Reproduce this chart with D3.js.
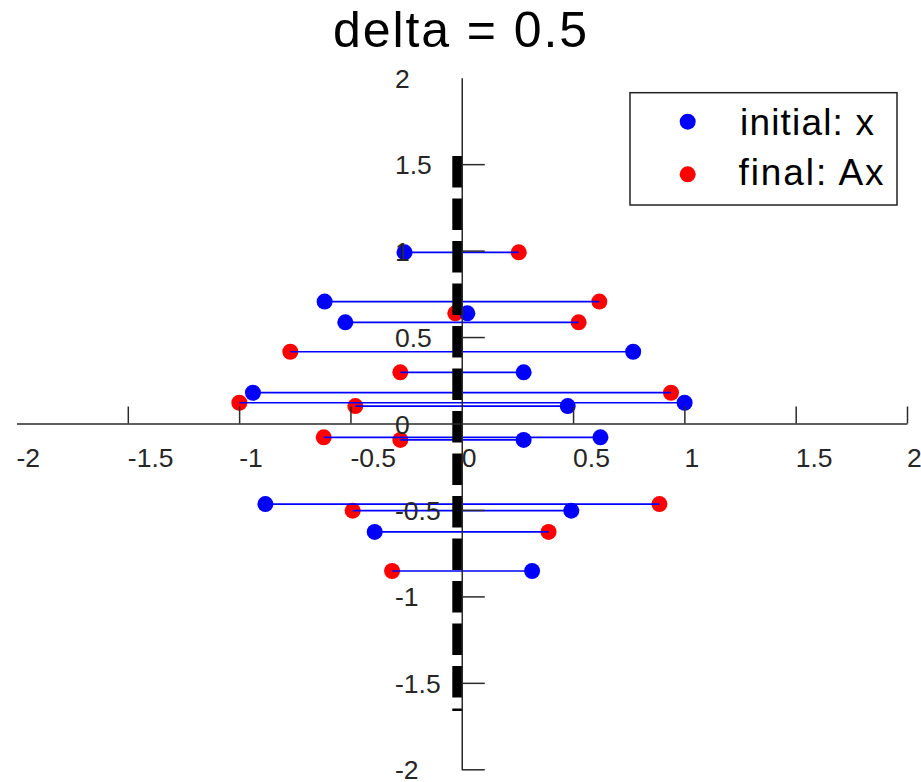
<!DOCTYPE html>
<html>
<head>
<meta charset="utf-8">
<script src="https://cdn.jsdelivr.net/npm/d3@7"></script>
<style>
  html, body { margin: 0; padding: 0; background: #fff; }
  svg { display: block; font-family: "Liberation Sans", Arial, sans-serif; }
</style>
</head>
<body>
<svg id="chart" width="921" height="782"></svg>
<script>
// Each row: a point x (blue) mapped to Ax (red), sharing the same y.
const rowY   = [0.990, 0.705, 0.637, 0.585, 0.415, 0.296, 0.178, 0.120, 0.101, -0.080, -0.095, -0.466, -0.504, -0.627, -0.853];
const initX  = [-0.257, -0.616, 0.025, -0.523, 0.770, 0.278, -0.938, 1.001, 0.476, 0.623, 0.278, -0.882, 0.492, -0.391, 0.316];
const finalX = [0.256, 0.618, -0.029, 0.525, -0.770, -0.276, 0.940, -0.999, -0.478, -0.620, -0.276, 0.888, -0.490, 0.390, -0.313];

// Dashed reference segment
const refX = -0.02;
const refY = [1.547, -1.663];

// Axis ticks and labels
const xTickMarks  = [-1.5, -1, -0.5, 0.5, 1, 1.5, 2];
const yTickMarks  = [-2, -1.5, -1, -0.5, 0.5, 1, 1.5];
const xTickLabels = [-2, -1.5, -1, -0.5, 0, 0.5, 1, 1.5, 2];
const yTickLabels = [2, 1.5, 1, 0.5, 0, -0.5, -1, -1.5, -2];

const legendLabels = ["initial: x", "final: Ax"];
const legendColors = ["#0000ff", "#ff0000"];
const titleText = "delta = 0.5";

const svg = d3.select("#chart");
const x = d3.scaleLinear().domain([-2, 2]).range([16.5, 907]);
const y = d3.scaleLinear().domain([-2, 2]).range([769.3, 77.7]);

const rows = rowY.map((v, i) => ({ y: v, x0: initX[i], x1: finalX[i] }));
const R = 8;

// final points (red)
svg.append("g").selectAll("circle").data(rows).join("circle")
  .attr("cx", d => x(d.x1)).attr("cy", d => y(d.y)).attr("r", R)
  .attr("fill", "#ff0000");

// initial points (blue)
svg.append("g").selectAll("circle").data(rows).join("circle")
  .attr("cx", d => x(d.x0)).attr("cy", d => y(d.y)).attr("r", R)
  .attr("fill", "#0000ff");

// connecting segments
svg.append("g").selectAll("line").data(rows).join("line")
  .attr("x1", d => x(d.x0)).attr("x2", d => x(d.x1))
  .attr("y1", d => y(d.y)).attr("y2", d => y(d.y))
  .attr("stroke", "#0000ff").attr("stroke-width", 1.7);

// thick dashed segment
svg.append("line")
  .attr("x1", x(refX)).attr("x2", x(refX))
  .attr("y1", y(refY[0])).attr("y2", y(refY[1]))
  .attr("stroke", "#000").attr("stroke-width", 10)
  .attr("stroke-dasharray", "31.5,11");

// axes crossing at the origin
const axisColor = "#2a2a2a";
const gx = svg.append("g").attr("transform", `translate(0,${y(0)})`)
  .call(d3.axisTop(x).tickValues(xTickMarks).tickSize(17).tickSizeOuter(0).tickFormat(""));
const gy = svg.append("g").attr("transform", `translate(${x(0)},0)`)
  .call(d3.axisRight(y).tickValues(yTickMarks).tickSize(23).tickSizeOuter(0).tickFormat(""));
[gx, gy].forEach(g => {
  g.selectAll("path, line").attr("stroke", axisColor).attr("stroke-width", 1.5);
  g.selectAll("text").remove();
});

// tick labels, left-aligned
svg.append("g").selectAll("text").data(xTickLabels).join("text")
  .attr("x", d => x(d)).attr("y", y(0) + 34)
  .attr("dominant-baseline", "central")
  .attr("font-size", 26.5).attr("fill", "#262626")
  .text(d => String(d));
svg.append("g").selectAll("text").data(yTickLabels).join("text")
  .attr("x", 395).attr("y", d => y(d) + 1)
  .attr("dominant-baseline", "central")
  .attr("font-size", 26.5).attr("fill", "#262626")
  .text(d => String(d));

// title
svg.append("text")
  .attr("x", 333).attr("y", 47.3)
  .attr("font-size", 50).attr("fill", "#000")
  .attr("textLength", 254).attr("lengthAdjust", "spacing")
  .text(titleText);

// legend
const lg = svg.append("g");
lg.append("rect").attr("x", 630).attr("y", 92.7).attr("width", 267).attr("height", 112.3)
  .attr("fill", "#fff").attr("stroke", "#222").attr("stroke-width", 1.5);
const legendTextLen = [134, 145];
const legendTextX = [740, 738.5];
legendLabels.forEach((lab, i) => {
  const cy = 121.7 + i * 52.6;
  lg.append("circle").attr("cx", 687.7).attr("cy", cy).attr("r", R).attr("fill", legendColors[i]);
  lg.append("text").attr("x", legendTextX[i]).attr("y", 135 + i * 50)
    .attr("font-size", 37).attr("fill", "#000")
    .attr("textLength", legendTextLen[i]).attr("lengthAdjust", "spacing")
    .text(lab);
});
</script>
</body>
</html>
